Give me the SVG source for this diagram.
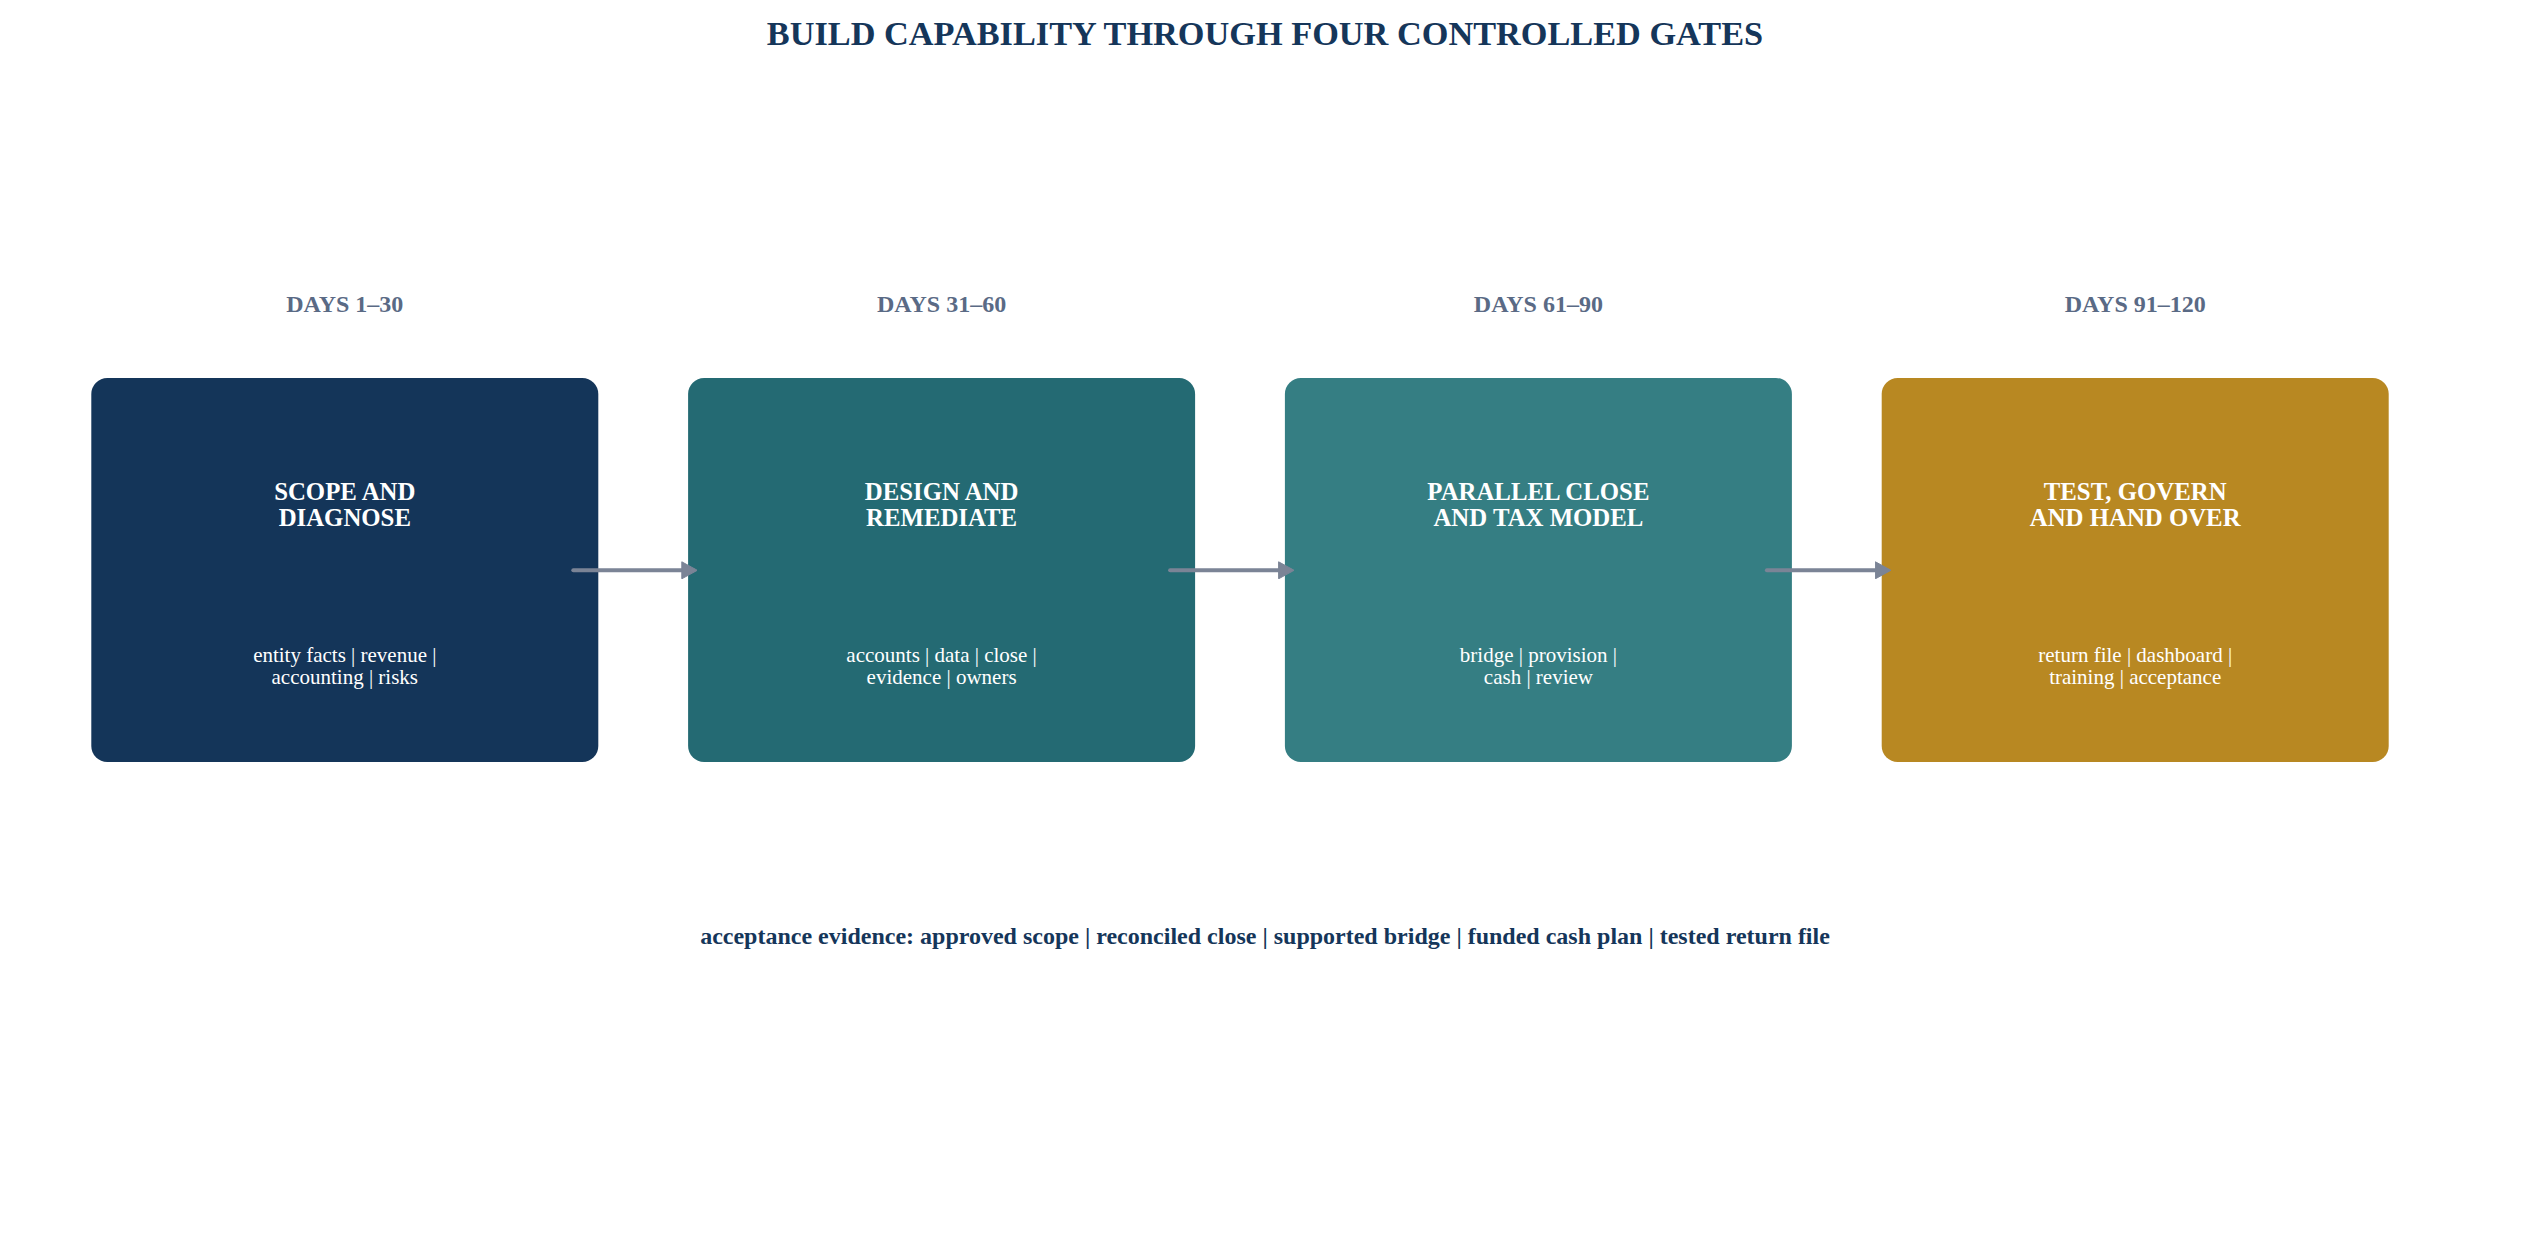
<svg xmlns="http://www.w3.org/2000/svg" width="2530" height="1254" viewBox="0 0 2530 1254">
  <style>
    text { font-family: "Liberation Serif", "Times New Roman", serif; text-anchor: middle; }
    .title { font-size: 34.3px; font-weight: bold; fill: #15365a; }
    .days { font-size: 24px; font-weight: bold; fill: #5a6a85; }
    .ntitle { font-size: 24.8px; font-weight: bold; fill: #ffffff; }
    .nsub { font-size: 21px; fill: #ffffff; }
    .foot { font-size: 24px; font-weight: bold; fill: #15365a; }
    .box { stroke: none; }
    .conn { stroke: #7b8496; stroke-width: 4; stroke-linecap: round; fill: none; marker-end: url(#arrow); }
  </style>
  <defs>
    <marker id="arrow" markerUnits="userSpaceOnUse" viewBox="0 0 16 18" markerWidth="16" markerHeight="18" refX="12" refY="9" orient="auto">
      <path d="M0.5,0.5 L16,9 L0.5,17.5 z" fill="#7b8496" stroke="#7b8496" stroke-width="1" stroke-linejoin="round"/>
    </marker>
  </defs>
  <rect width="2530" height="1254" fill="#ffffff"/>
  <text class="title" x="1265" y="44.5">BUILD CAPABILITY THROUGH FOUR CONTROLLED GATES</text>

  <g id="gate1">
    <text class="days" x="344.8" y="312">DAYS 1–30</text>
    <rect class="box" x="91.3" y="378" width="507" height="384" rx="16" fill="#143559"/>
    <text class="ntitle" x="344.8" y="500">SCOPE AND</text>
    <text class="ntitle" x="344.8" y="526">DIAGNOSE</text>
    <text class="nsub" x="344.8" y="661.7">entity facts | revenue |</text>
    <text class="nsub" x="344.8" y="684.3">accounting | risks</text>
  </g>
  <g id="gate2">
    <text class="days" x="941.6" y="312">DAYS 31–60</text>
    <rect class="box" x="688.1" y="378" width="507" height="384" rx="16" fill="#246a73"/>
    <text class="ntitle" x="941.6" y="500">DESIGN AND</text>
    <text class="ntitle" x="941.6" y="526">REMEDIATE</text>
    <text class="nsub" x="941.6" y="661.7">accounts | data | close |</text>
    <text class="nsub" x="941.6" y="684.3">evidence | owners</text>
  </g>
  <g id="gate3">
    <text class="days" x="1538.4" y="312">DAYS 61–90</text>
    <rect class="box" x="1284.9" y="378" width="507" height="384" rx="16" fill="#357e83"/>
    <text class="ntitle" x="1538.4" y="500">PARALLEL CLOSE</text>
    <text class="ntitle" x="1538.4" y="526">AND TAX MODEL</text>
    <text class="nsub" x="1538.4" y="661.7">bridge | provision |</text>
    <text class="nsub" x="1538.4" y="684.3">cash | review</text>
  </g>
  <g id="gate4">
    <text class="days" x="2135.2" y="312">DAYS 91–120</text>
    <rect class="box" x="1881.7" y="378" width="507" height="384" rx="16" fill="#b88822"/>
    <text class="ntitle" x="2135.2" y="500">TEST, GOVERN</text>
    <text class="ntitle" x="2135.2" y="526">AND HAND OVER</text>
    <text class="nsub" x="2135.2" y="661.7">return file | dashboard |</text>
    <text class="nsub" x="2135.2" y="684.3">training | acceptance</text>
  </g>

  <g id="connectors">
    <line class="conn" x1="573.3" y1="570.3" x2="693.3" y2="570.3"/>
    <line class="conn" x1="1170.1" y1="570.3" x2="1290.1" y2="570.3"/>
    <line class="conn" x1="1766.9" y1="570.3" x2="1886.9" y2="570.3"/>
  </g>

  <text class="foot" x="1265" y="944">acceptance evidence: approved scope | reconciled close | supported bridge | funded cash plan | tested return file</text>
</svg>
